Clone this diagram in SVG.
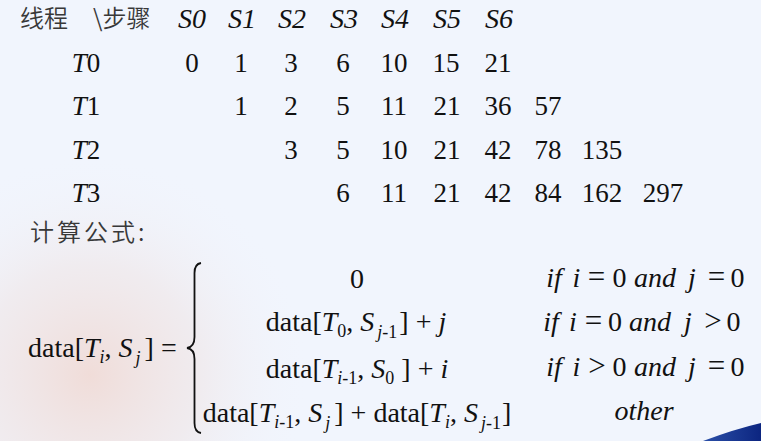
<svg xmlns="http://www.w3.org/2000/svg" width="761" height="441" viewBox="0 0 761 441">
<defs>
<radialGradient id="swirl" cx="90" cy="375" r="220" gradientUnits="userSpaceOnUse">
<stop offset="0" stop-color="#f0d8d2" stop-opacity="0.85"/>
<stop offset="0.5" stop-color="#efe2e1" stop-opacity="0.5"/>
<stop offset="1" stop-color="#f1f5fd" stop-opacity="0"/>
</radialGradient>
<linearGradient id="blue" x1="0" y1="0" x2="1" y2="0">
<stop offset="0" stop-color="#2a4fa8"/>
<stop offset="1" stop-color="#0c2580"/>
</linearGradient>
<style>
.cn{font-family:"Noto Sans CJK SC","Noto Sans",sans-serif;font-size:24px;fill:#383838;font-weight:350}
.t{font-family:"Liberation Serif","Times New Roman",serif;font-size:27px;fill:#111}
.h{font-size:28px}
.m{font-family:"Liberation Serif","Times New Roman",serif;font-size:28px;fill:#111}
.i{font-style:italic}
.n{font-style:normal}
.op{font-style:normal;font-size:31px}
.c{text-anchor:middle}
</style>
</defs>
<rect width="761" height="441" fill="#f1f5fd"/>
<rect width="761" height="441" fill="url(#swirl)"/>
<path d="M703,441 Q735,429 761,423 L761,441 Z" fill="url(#blue)"/>

<g id="header">
<text class="cn" x="20" y="27">线程</text>
<text class="cn" x="93" y="27">\步骤</text>
<text class="t h c i" x="192" y="28">S0</text>
<text class="t h c i" x="242" y="28">S1</text>
<text class="t h c i" x="292" y="28">S2</text>
<text class="t h c i" x="344" y="28">S3</text>
<text class="t h c i" x="395" y="28">S4</text>
<text class="t h c i" x="447" y="28">S5</text>
<text class="t h c i" x="499" y="28">S6</text>
</g>
<g id="row-T0">
<text class="t c" x="86" y="72"><tspan class="i">T</tspan>0</text>
<text class="t c" x="192" y="72">0</text>
<text class="t c" x="241" y="72">1</text>
<text class="t c" x="291" y="72">3</text>
<text class="t c" x="343" y="72">6</text>
<text class="t c" x="394" y="72">10</text>
<text class="t c" x="446" y="72">15</text>
<text class="t c" x="498" y="72">21</text>
</g>
<g id="row-T1">
<text class="t c" x="86" y="115"><tspan class="i">T</tspan>1</text>
<text class="t c" x="241" y="115">1</text>
<text class="t c" x="291" y="115">2</text>
<text class="t c" x="343" y="115">5</text>
<text class="t c" x="394" y="115">11</text>
<text class="t c" x="447" y="115">21</text>
<text class="t c" x="498" y="115">36</text>
<text class="t c" x="548" y="115">57</text>
</g>
<g id="row-T2">
<text class="t c" x="86" y="159"><tspan class="i">T</tspan>2</text>
<text class="t c" x="291" y="159">3</text>
<text class="t c" x="343" y="159">5</text>
<text class="t c" x="394" y="159">10</text>
<text class="t c" x="447" y="159">21</text>
<text class="t c" x="498" y="159">42</text>
<text class="t c" x="548" y="159">78</text>
<text class="t c" x="602" y="159">135</text>
</g>
<g id="row-T3">
<text class="t c" x="86" y="202"><tspan class="i">T</tspan>3</text>
<text class="t c" x="343" y="202">6</text>
<text class="t c" x="394" y="202">11</text>
<text class="t c" x="447" y="202">21</text>
<text class="t c" x="498" y="202">42</text>
<text class="t c" x="548" y="202">84</text>
<text class="t c" x="602" y="202">162</text>
<text class="t c" x="663" y="202">297</text>
</g>

<g id="formula-title">
<text class="cn" x="30" y="241" font-size="26" letter-spacing="3">计算公式:</text>
</g>

<g id="formula">
<text class="m" x="28" y="357">data[<tspan class="i">T</tspan><tspan class="i" font-size="18" dy="6">i</tspan><tspan dy="-6">, </tspan><tspan class="i">S</tspan><tspan class="i" font-size="18" dy="7" dx="3">j</tspan><tspan dy="-7" dx="4">] = </tspan></text>
<path d="M201,263 Q194.5,264 194.5,273 L194.5,337 Q194.5,347 187,348 Q194.5,349 194.5,359 L194.5,423 Q194.5,432 201,433" fill="none" stroke="#111" stroke-width="1.8"/>
<text class="m c" x="357" y="288">0</text>
<text class="m c" x="356" y="331">data[<tspan class="i">T</tspan><tspan font-size="18" dy="6">0</tspan><tspan dy="-6">, </tspan><tspan class="i">S</tspan><tspan font-size="18" dy="7" dx="3"><tspan class="i">j</tspan>-1</tspan><tspan dy="-7" dx="2">] +  </tspan><tspan class="i">j</tspan></text>
<text class="m c" x="357" y="378">data[<tspan class="i">T</tspan><tspan font-size="18" dy="6"><tspan class="i">i</tspan>-1</tspan><tspan dy="-6">, </tspan><tspan class="i">S</tspan><tspan font-size="18" dy="6">0</tspan><tspan dy="-6"> ] + </tspan><tspan class="i">i</tspan></text>
<text class="m c" x="357" y="422">data[<tspan class="i">T</tspan><tspan font-size="18" dy="6"><tspan class="i">i</tspan>-1</tspan><tspan dy="-6">, </tspan><tspan class="i">S</tspan><tspan class="i" font-size="18" dy="7" dx="3">j</tspan><tspan dy="-7" dx="4">] + data[</tspan><tspan class="i">T</tspan><tspan class="i" font-size="18" dy="6">i</tspan><tspan dy="-6">, </tspan><tspan class="i">S</tspan><tspan font-size="18" dy="7" dx="3"><tspan class="i">j</tspan>-1</tspan><tspan dy="-7" dx="1">]</tspan></text>
<text class="m c i" y="287"><tspan x="554">if</tspan><tspan x="576.5">i</tspan><tspan class="op" x="596.5">=</tspan><tspan class="n" x="619.5">0</tspan><tspan x="655">and</tspan><tspan x="692">j</tspan><tspan class="op" x="716.5">=</tspan><tspan class="n" x="737.5">0</tspan></text>
<text class="m c i" y="331"><tspan x="551">if</tspan><tspan x="573">i</tspan><tspan class="op" x="593.5">=</tspan><tspan class="n" x="615">0</tspan><tspan x="650">and</tspan><tspan x="688">j</tspan><tspan class="op" x="713">&gt;</tspan><tspan class="n" x="733.5">0</tspan></text>
<text class="m c i" y="376"><tspan x="554">if</tspan><tspan x="576.5">i</tspan><tspan class="op" x="597">&gt;</tspan><tspan class="n" x="619.5">0</tspan><tspan x="655">and</tspan><tspan x="692">j</tspan><tspan class="op" x="716.5">=</tspan><tspan class="n" x="737.5">0</tspan></text>
<text class="m c i" x="644" y="420">other</text>
</g>
</svg>
